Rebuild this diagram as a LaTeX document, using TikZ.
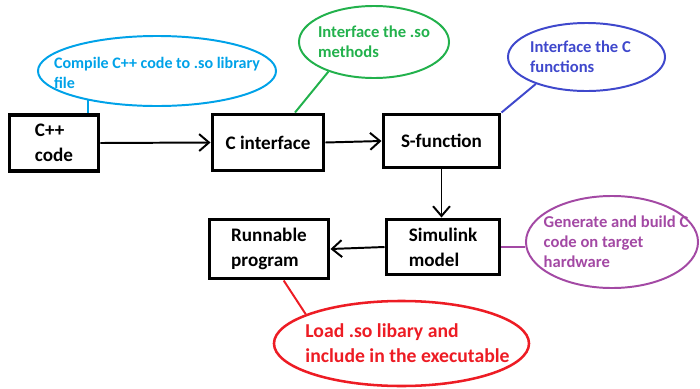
\documentclass[tikz,border=0pt]{standalone}
\usepackage{fontspec}
\setmainfont{Carlito}
\usepackage{tikz}
\usetikzlibrary{arrows.meta,positioning,shapes.geometric}

\definecolor{skyblue}{RGB}{0,162,232}
\definecolor{grassgreen}{RGB}{34,177,76}
\definecolor{indigo}{RGB}{63,72,204}
\definecolor{plum}{RGB}{163,73,164}
\definecolor{alarmred}{RGB}{237,28,36}

\begin{document}
\begin{tikzpicture}[x=0.025cm, y=-0.025cm,
  blk/.style={draw, line width=2.8pt, inner sep=0pt, align=left,
    font=\bfseries\fontsize{13.6}{17.8}\selectfont},
  bub/.style={draw, ellipse, line width=1.4pt, inner sep=0pt},
  bubtxt/.style={align=left, inner sep=0pt, font=\bfseries\fontsize{11.8}{14.2}\selectfont},
  flow/.style={line width=1.4pt, -{Straight Barb[length=7pt,width=12pt,line width=1.4pt]}},
  tie/.style={line width=1.4pt}]
  \useasboundingbox (0,0) rectangle (700,389);

  % blocks
  \node[blk, minimum width=2.225cm, minimum height=1.4cm] (cpp) at (54,143) {C++\\code};
  \node[blk, minimum width=2.775cm, minimum height=1.4cm] (cif) at (268,142.5) {C interface};
  \node[blk, minimum width=2.9cm, minimum height=1.325cm] (sfun) at (441.5,141) {S-function};
  \node[blk, minimum width=2.825cm, minimum height=1.375cm] (sim) at (443,247) {Simulink\\model};
  \node[blk, minimum width=2.975cm, minimum height=1.475cm] (run) at (269,249) {Runnable\\program};

  % flow
  \draw[flow] (cpp.east) -- (cif.west);
  \draw[flow] (cif.east) -- (sfun.west);
  \draw[flow] (sfun.south) -- (sfun.south |- sim.north);
  \draw[flow] (sim.west) -- (run.east);

  % notes
  \node[bub, skyblue, minimum width=5.95cm, minimum height=1.75cm,
    label={[bubtxt, skyblue, yshift=-0.05cm, font=\bfseries\fontsize{11.4}{14.2}\selectfont]center:{Compile C++ code to .so library\\file}}] (compile) at (157,71) {};
  \node[bub, grassgreen, minimum width=3.75cm, minimum height=1.8cm,
    label={[bubtxt, grassgreen]center:{Interface the .so\\methods}}] (somethods) at (374,42) {};
  \node[bub, indigo, minimum width=3.925cm, minimum height=1.7cm,
    label={[bubtxt, indigo, xshift=-0.15cm]center:{Interface the C\\functions}}] (cfuncs) at (586.5,57) {};
  \node[bub, plum, minimum width=4.3cm, minimum height=2.3cm,
    label={[bubtxt, plum, xshift=0.1cm]center:{Generate and build C\\code on target\\hardware}}] (gen) at (612,242) {};
  \node[bub, alarmred, line width=1.8pt, minimum width=6.375cm, minimum height=2.125cm,
    label={[bubtxt, alarmred, xshift=0.15cm, font=\bfseries\fontsize{14}{17.8}\selectfont]center:{Load .so libary and\\include in the executable}}] (load) at (401.5,343.5) {};

  \draw[tie, skyblue] (compile.203) -- (compile.203 |- cpp.north);
  \draw[tie, grassgreen] (somethods.213) -- (cif.48.5);
  \draw[tie, indigo] (cfuncs.208.8) -- (sfun.north east);
  \draw[tie, plum] (sim.east) -- (sim.east -| gen.west);
  \draw[tie, alarmred] (run.-65) -- (load.163);
\end{tikzpicture}
\end{document}
